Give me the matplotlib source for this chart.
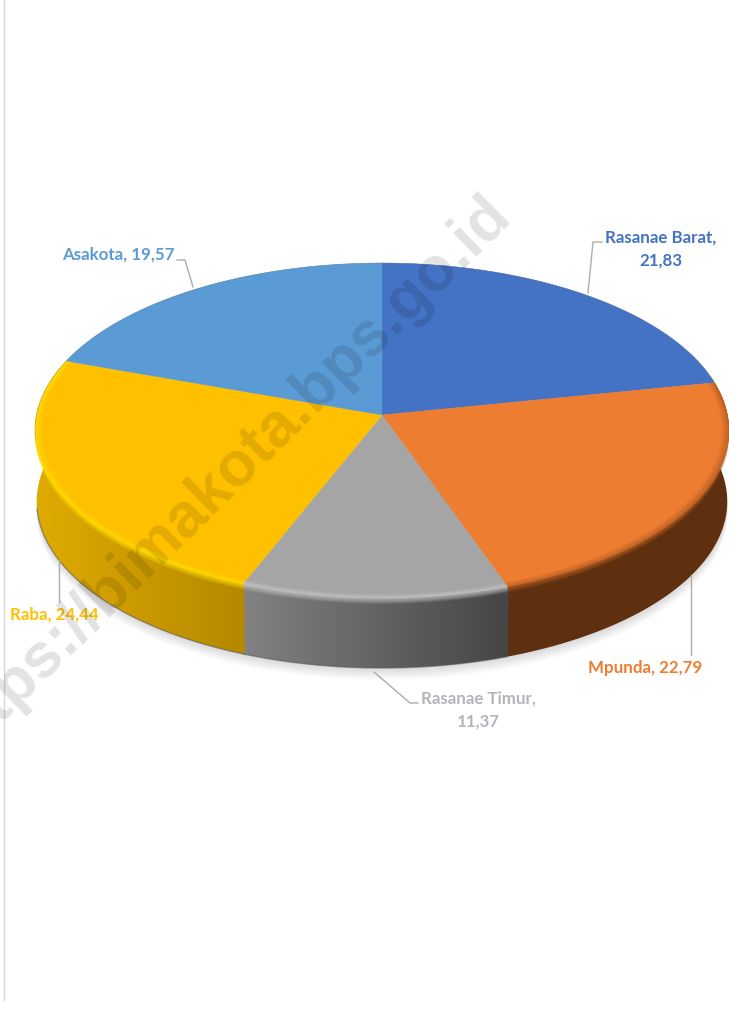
"""
Pie 3D: luas per kecamatan, Kota Bima
"""

import matplotlib
matplotlib.use('Agg')
import matplotlib.pyplot as plt
import matplotlib.colors as mcolors
from matplotlib.patches import Polygon
import numpy as np

# data
categories = ['Rasanae Barat', 'Mpunda', 'Rasanae Timur', 'Raba', 'Asakota']
values = [21.83, 22.79, 11.37, 24.44, 19.57]

# warna
top_colors = ['#4472C4', '#ED7D31', '#A5A5A5', '#FFC000', '#5B9BD5']
label_colors = ['#4472C4', '#ED7D31', '#B4B4BA', '#FFC000', '#5B9BD5']
wall_right = ['#2C4A80', '#5F300F', '#454545', '#B58800', '#3B6A90']
wall_left = ['#2C4A80', '#5F300F', '#828282', '#E0AB00', '#3B6A90']
rim_colors = ['#4472C4', '#B85E22', '#C6C6C6', '#FFDD00', '#5B9BD5']

# geometri pie (pixel)
CX, CY = 382, 415
WIDTH, SCALE_Y, PERSP = 345.5, 166, 0.0925
DEPTH = 71


def project(theta, radius=1.0, drop=0.0, shrink=0.0):
    u, v = radius * np.sin(theta), radius * np.cos(theta)
    w = 1 + PERSP * v
    x = CX + WIDTH * (1 - shrink) * u / w
    y = CY - SCALE_Y * (1 - shrink) * v / w + drop
    return x, y


def strip(ax, c0, c1, color, alpha, zorder):
    """isi pita antara dua tepi"""
    ax.fill(np.r_[c0[0], c1[0][::-1]], np.r_[c0[1], c1[1][::-1]], color=color, alpha=alpha, lw=0, zorder=zorder)


fig = plt.figure(figsize=(7.29, 10.11), dpi=100)
ax = fig.add_axes([0, 0, 1, 1])

# garis tepi halaman
ax.plot([4.5, 4.5], [0, 1000], color='#D9D9D9', lw=1.0, zorder=1)

# bayangan
all_theta = np.linspace(0, 2 * np.pi, 361)
for k in range(12):
    sx, sy = project(all_theta, drop=DEPTH + 1 + k, shrink=0.004)
    ax.fill(sx, sy, color='black', alpha=0.013, lw=0, zorder=2)

edges = np.cumsum([0] + values) / sum(values) * 2 * np.pi

# dinding, gradien dari kiri ke kanan
for i in [1, 2, 3]:
    theta = np.linspace(edges[i] - 0.003, edges[i + 1], 120)
    tx, ty = project(theta)
    bx, by = project(theta, drop=DEPTH, shrink=0.005)
    xmin, xmax = min(tx.min(), bx.min()), max(tx.max(), bx.max())
    grad = np.linspace(0, 1, 128)[None, :, None]
    rgb = np.array(mcolors.to_rgb(wall_left[i])) * (1 - grad) + np.array(mcolors.to_rgb(wall_right[i])) * grad
    im = ax.imshow(rgb, extent=[xmin, xmax, by.max(), ty.min()], aspect='auto', zorder=3, interpolation='bilinear')
    clip = Polygon(np.c_[np.r_[tx, bx[::-1]], np.r_[ty, by[::-1]]], transform=ax.transData)
    im.set_clip_path(clip)

# garis bawah dinding
for i in [2, 3]:
    theta = np.linspace(edges[i], min(edges[i + 1], np.radians(262)), 90)
    bx, by = project(theta, drop=DEPTH, shrink=0.005)
    ax.plot(bx, by, color='#555555', lw=1.0, alpha=0.55, zorder=4)

# permukaan atas
for i, name in enumerate(categories):
    theta = np.linspace(edges[i], edges[i + 1], 120)
    x, y = project(theta)
    ax.fill(np.r_[CX, x], np.r_[CY, y], color=top_colors[i], lw=0.3, zorder=5)

# bevel tepi
for i in [1, 2, 3]:
    theta = np.linspace(edges[i], edges[i + 1], 120)
    face = np.array(mcolors.to_rgb(top_colors[i]))
    rim = np.array(mcolors.to_rgb(rim_colors[i]))
    steps = 10
    for s in range(steps):
        t0, t1 = s / steps, (s + 1) / steps
        r0, r1 = 0.978 + 0.022 * t0, 0.978 + 0.022 * t1
        strip(ax, project(theta, r0), project(theta, r1), face * (1 - t1) + rim * t1, 1.0, 6)
        strip(ax, project(theta, drop=6 * t0), project(theta, drop=6 * t1), rim, 1 - t0, 6)

# tepi belakang
theta = np.linspace(np.radians(262), 2 * np.pi + edges[1], 200)
ex, ey = project(theta)
ax.plot(ex, ey, color='#5A6A80', lw=0.5, alpha=0.4, zorder=6)

# watermark
ax.text(513, 217, 'https://bimakota.bps.go.id', rotation=44.5, rotation_mode='anchor',
        ha='right', va='baseline', fontsize=45, fontweight='bold', family='Liberation Sans',
        color='black', alpha=0.115, zorder=9, clip_on=True)

# garis penunjuk
leaders = [
    ([602, 593, 588], [242, 242, 293]),
    ([691, 691], [575, 655]),
    ([418, 410, 374], [703, 703, 672]),
    ([59, 59], [560, 602]),
    ([177, 185, 193], [260, 260, 287]),
]
for lx, ly in leaders:
    ax.plot(lx, ly, color='#ADADAD', lw=1.0, zorder=7)

# label
label_pos = [(660.5, 249), (645.5, 668), (478.5, 710), (54, 615), (118, 255)]
label_breaks = [True, False, True, False, False]
for i, name in enumerate(categories):
    sep = ',\n' if label_breaks[i] else ', '
    txt = f'{name}{sep}{values[i]:.2f}'.replace('.', ',')
    ax.text(label_pos[i][0], label_pos[i][1], txt, color=label_colors[i], ha='center', va='center',
            fontsize=12.2, fontweight='bold', family='Lato', linespacing=1.55, zorder=8)

ax.set_xlim(0, 729)
ax.set_ylim(1011, 0)
ax.axis('off')

plt.savefig('out.png', dpi=100)
plt.close()
